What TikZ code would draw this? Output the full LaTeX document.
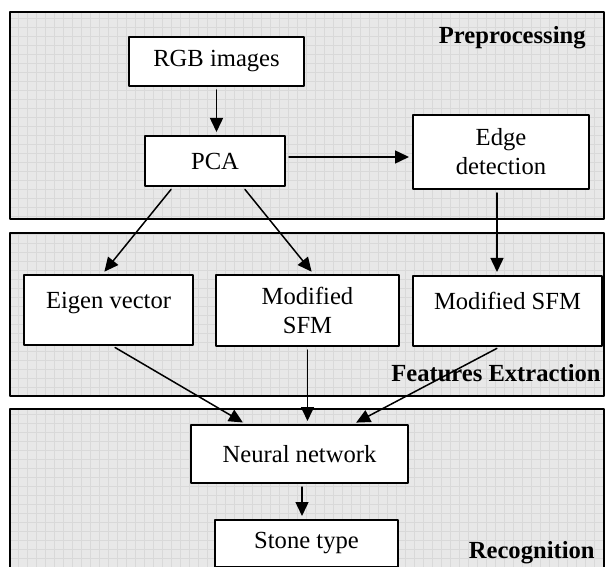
\documentclass[tikz,border=0pt]{standalone}
\usepackage{fontspec}
\setmainfont{Liberation Serif}
\usetikzlibrary{arrows.meta}

\tikzset{
  blk/.style={draw=black, line width=1pt, fill=white, align=center, inner sep=2pt},
  topbox/.style={text height=8pt, text depth=10pt},
  arr/.style={-{Triangle[length=7pt,width=6.5pt]}, line width=0.75pt, shorten <=1.5pt, shorten >=1.5pt},
  lbl/.style={font=\fontsize{12.3}{14.5}\selectfont\bfseries, inner sep=0pt},
  panelfill/.style={fill=black!9},
  gridline/.style={draw=black!15, line width=0.3pt}
}

\begin{document}
\begin{tikzpicture}[x=0.5pt, y=-0.5pt, line cap=round, line join=round,
    font=\fontsize{12.3}{14.5}\selectfont]

  \useasboundingbox (0,0) rectangle (606,567);

  % ── Panels ───────────────────────────────────────────────────────────────────

  \foreach \yt/\yb in {12/219, 233/396, 409/572} {
    \fill[panelfill] (10,\yt) rectangle (604,\yb);
    \draw[gridline, step=4.5pt] (10,\yt) grid (604,\yb);
    \draw[line width=1.2pt] (10,\yt) rectangle (604,\yb);
  }

  \node[lbl, anchor=east] (prelbl) at (586,38)  {Preprocessing};
  \node[lbl, anchor=east] (feslbl) at (601,373) {Features Extraction};
  \node[lbl, anchor=east] (reclbl) at (595,553) {Recognition};

  % ── Blocks ───────────────────────────────────────────────────────────────────

  \node[blk, minimum width=87.5pt, minimum height=24.5pt] (rgb)  at (216.5,61.5) {RGB images};
  \node[blk, minimum width=70pt,   minimum height=25pt]   (pca)  at (215,161)    {PCA};
  \node[blk, minimum width=88pt,   minimum height=37pt]   (edge) at (501,152)    {Edge\\detection};

  \node[blk, topbox, minimum width=84.5pt, minimum height=35pt] (eigen) at (108.5,310) {Eigen vector};
  \node[blk, minimum width=91.5pt, minimum height=35.5pt]       (msfm)  at (307.5,310.5) {Modified\\SFM};
  \node[blk, topbox, minimum width=94.5pt, minimum height=35pt] (rsfm)  at (507.5,311) {Modified SFM};

  \node[blk, minimum width=108.5pt, minimum height=29pt]  (nn)    at (299.5,454)   {Neural network};
  \node[blk, minimum width=91.5pt,  minimum height=23.5pt] (stone) at (306.5,543.5) {Stone type};

  % ── Connectors ───────────────────────────────────────────────────────────────

  \draw[arr] (rgb) -- (rgb |- pca.north);
  \draw[arr] ([yshift=2pt]pca.east) -- ([yshift=2pt]pca.east -| edge.west);

  \draw[arr] ([xshift=-21pt]pca.south) -- ([xshift=-3pt]eigen.north);
  \draw[arr] ([xshift=14pt]pca.south)  -- ([xshift=3pt]msfm.north);
  \draw[arr] ([xshift=-2pt]edge.south) -- ([xshift=-2pt]edge.south |- rsfm.north);

  \draw[arr] ([xshift=2pt]eigen.south)   -- ([xshift=-27pt]nn.north);
  \draw[arr] (msfm) -- (msfm |- nn.north);
  \draw[arr] ([xshift=-4pt]rsfm.south)   -- ([xshift=27pt]nn.north);

  \draw[arr] ([xshift=1.25pt]nn.south) -- ([xshift=1.25pt]nn.south |- stone.north);

\end{tikzpicture}
\end{document}
